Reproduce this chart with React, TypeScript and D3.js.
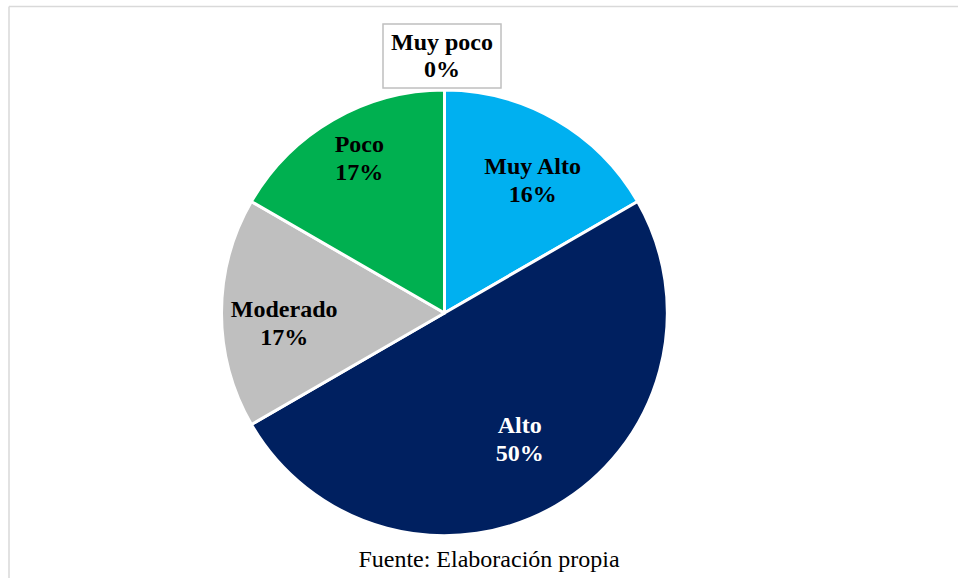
import React from "react";
import * as d3 from "d3";

const categories = ["Muy Alto", "Alto", "Moderado", "Poco", "Muy poco"];
const values = [16.67, 50, 16.67, 16.67, 0];
const percentLabels = ["16%", "50%", "17%", "17%", "0%"];
const colors = ["#00B0F0", "#002060", "#BFBFBF", "#00B050", "#FFFFFF"];
const textColors = ["#000000", "#FFFFFF", "#000000", "#000000", "#000000"];
const sourceText = "Fuente: Elaboración propia";

const W = 958;
const H = 578;
const cx = 444.5;
const cy = 313;
const R = 223;
const FONT = "'Liberation Serif', 'Times New Roman', serif";
const FS = 24;

// small label nudges (styling, per slice index)
const nudges: [number, number][] = [
  [9, 12],
  [-4, -3],
  [-2, 18],
  [-6, -10],
  [0, 0],
];

export default function App() {
  const data = categories.map((c, i) => ({ cat: c, value: values[i], label: percentLabels[i], i }));
  const pie = d3.pie<any>().sort(null).value((d) => d.value).startAngle(0).endAngle(2 * Math.PI);
  const arcs = pie(data);
  const arc = d3.arc<any>().innerRadius(0).outerRadius(R);
  const labelArc = d3.arc<any>().innerRadius(R * 0.71).outerRadius(R * 0.71);

  return (
    <svg width={W} height={H} style={{ position: "absolute", left: 0, top: 0, display: "block", background: "#fff" }}>
      <line x1={9} y1={6.5} x2={W} y2={6.5} stroke="#D9D9D9" strokeWidth={1.5} />
      <line x1={9} y1={6.5} x2={9} y2={H} stroke="#D9D9D9" strokeWidth={1.5} />
      <g transform={`translate(${cx},${cy})`}>
        {arcs.map((a, i) =>
          a.value > 0 ? (
            <path key={i} d={arc(a) as string} fill={colors[i]} stroke="#FFFFFF" strokeWidth={3} strokeLinejoin="round" />
          ) : null
        )}
        {arcs.map((a, i) => {
          const lineH = 28;
          if (a.value > 0) {
            const [x, y] = labelArc.centroid(a);
            const lx = x + nudges[i][0];
            const ly = y + nudges[i][1];
            return (
              <text key={"t" + i} x={lx} y={ly} textAnchor="middle" fontFamily={FONT} fontWeight="bold" fontSize={FS} fill={textColors[i]}>
                <tspan x={lx} y={ly - 14}>{a.data.cat}</tspan>
                <tspan x={lx} y={ly + lineH - 14}>{a.data.label}</tspan>
              </text>
            );
          }
          // zero slice: boxed label outside the pie at its angle
          const ang = a.startAngle;
          const bx = Math.sin(ang) * (R + 34) - 2.5;
          const by = -Math.cos(ang) * (R + 34);
          return (
            <g key={"t" + i}>
              <rect x={bx - 59} y={by - 32} width={118} height={64} fill="#FFFFFF" stroke="#BFBFBF" strokeWidth={1.5} />
              <text textAnchor="middle" fontFamily={FONT} fontWeight="bold" fontSize={FS} fill={textColors[i]}>
                <tspan x={bx} y={by - 6}>{a.data.cat}</tspan>
                <tspan x={bx} y={by + 21}>{a.data.label}</tspan>
              </text>
            </g>
          );
        })}
      </g>
      <text x={489} y={566.5} textAnchor="middle" fontFamily={FONT} fontSize={FS} fill="#000">
        {sourceText}
      </text>
    </svg>
  );
}
